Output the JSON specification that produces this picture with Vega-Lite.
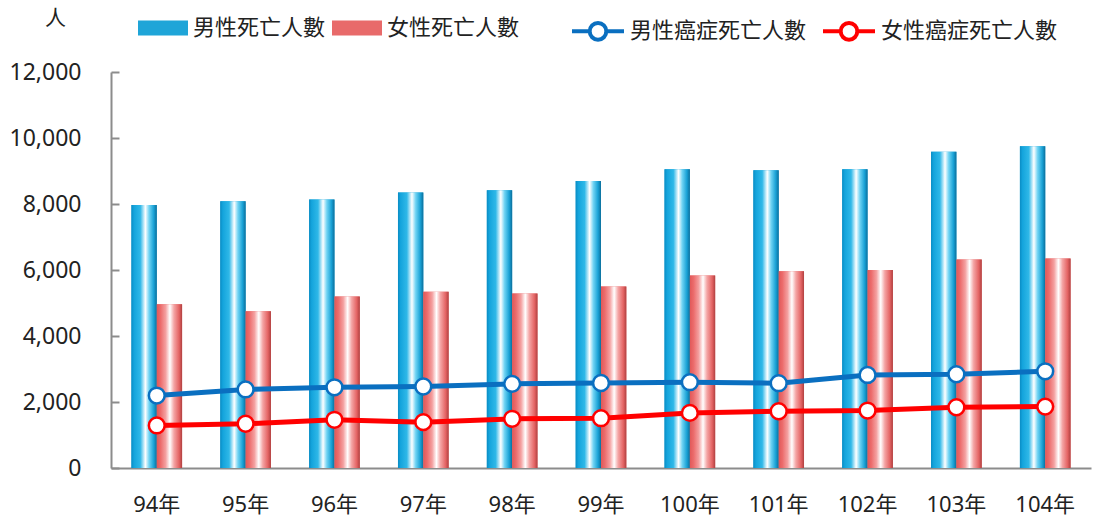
{
  "$schema": "https://vega.github.io/schema/vega-lite/v6.json",
  "width": 980,
  "height": 396,
  "autosize": {"type": "none"},
  "padding": {"left": 111, "top": 72, "right": 7, "bottom": 54},
  "background": "white",
  "config": {
    "view": {"stroke": null},
    "font": "Noto Sans, Noto Sans CJK TC",
    "axis": {"labelFont": "Noto Sans, Noto Sans CJK TC", "titleFont": "Noto Sans CJK TC"},
    "legend": {"labelFont": "Noto Sans CJK TC", "labelLimit": 400}
  },
  "datasets": {
    "bars": [
      {"year": "94年", "series": "男性死亡人數", "value": 7970},
      {"year": "95年", "series": "男性死亡人數", "value": 8080},
      {"year": "96年", "series": "男性死亡人數", "value": 8140},
      {"year": "97年", "series": "男性死亡人數", "value": 8350},
      {"year": "98年", "series": "男性死亡人數", "value": 8420},
      {"year": "99年", "series": "男性死亡人數", "value": 8700},
      {"year": "100年", "series": "男性死亡人數", "value": 9050},
      {"year": "101年", "series": "男性死亡人數", "value": 9020},
      {"year": "102年", "series": "男性死亡人數", "value": 9050},
      {"year": "103年", "series": "男性死亡人數", "value": 9580},
      {"year": "104年", "series": "男性死亡人數", "value": 9750},
      {"year": "94年", "series": "女性死亡人數", "value": 4960},
      {"year": "95年", "series": "女性死亡人數", "value": 4750},
      {"year": "96年", "series": "女性死亡人數", "value": 5200},
      {"year": "97年", "series": "女性死亡人數", "value": 5340},
      {"year": "98年", "series": "女性死亡人數", "value": 5290},
      {"year": "99年", "series": "女性死亡人數", "value": 5500},
      {"year": "100年", "series": "女性死亡人數", "value": 5830},
      {"year": "101年", "series": "女性死亡人數", "value": 5960},
      {"year": "102年", "series": "女性死亡人數", "value": 6000},
      {"year": "103年", "series": "女性死亡人數", "value": 6320},
      {"year": "104年", "series": "女性死亡人數", "value": 6350}
    ],
    "lines": [
      {"year": "94年", "series": "男性癌症死亡人數", "value": 2195},
      {"year": "95年", "series": "男性癌症死亡人數", "value": 2380},
      {"year": "96年", "series": "男性癌症死亡人數", "value": 2445},
      {"year": "97年", "series": "男性癌症死亡人數", "value": 2470},
      {"year": "98年", "series": "男性癌症死亡人數", "value": 2550},
      {"year": "99年", "series": "男性癌症死亡人數", "value": 2575},
      {"year": "100年", "series": "男性癌症死亡人數", "value": 2600},
      {"year": "101年", "series": "男性癌症死亡人數", "value": 2570},
      {"year": "102年", "series": "男性癌症死亡人數", "value": 2820},
      {"year": "103年", "series": "男性癌症死亡人數", "value": 2840},
      {"year": "104年", "series": "男性癌症死亡人數", "value": 2930},
      {"year": "94年", "series": "女性癌症死亡人數", "value": 1290},
      {"year": "95年", "series": "女性癌症死亡人數", "value": 1340},
      {"year": "96年", "series": "女性癌症死亡人數", "value": 1460},
      {"year": "97年", "series": "女性癌症死亡人數", "value": 1390},
      {"year": "98年", "series": "女性癌症死亡人數", "value": 1490},
      {"year": "99年", "series": "女性癌症死亡人數", "value": 1510},
      {"year": "100年", "series": "女性癌症死亡人數", "value": 1670},
      {"year": "101年", "series": "女性癌症死亡人數", "value": 1720},
      {"year": "102年", "series": "女性癌症死亡人數", "value": 1740},
      {"year": "103年", "series": "女性癌症死亡人數", "value": 1840},
      {"year": "104年", "series": "女性癌症死亡人數", "value": 1860}
    ]
  },
  "encoding": {
    "x": {
      "field": "year",
      "type": "nominal",
      "sort": ["94年", "95年", "96年", "97年", "98年", "99年", "100年", "101年", "102年", "103年", "104年"],
      "scale": {"paddingInner": 0.43, "paddingOuter": 0.23},
      "axis": {
        "title": null,
        "labelAngle": 0,
        "labelFontSize": 22,
        "labelColor": "#222222",
        "labelPadding": 26,
        "ticks": false,
        "domainColor": "#8c8c8c",
        "domainWidth": 2
      }
    },
    "y": {
      "field": "value",
      "type": "quantitative",
      "scale": {"domain": [0, 12000]},
      "axis": {
        "title": "人",
        "titleAngle": 0,
        "titleFontSize": 21,
        "titleFontWeight": "normal",
        "titleColor": "#222222",
        "titleAlign": "center",
        "titleBaseline": "middle",
        "titleX": -56,
        "titleY": -54,
        "values": [0, 2000, 4000, 6000, 8000, 10000, 12000],
        "format": ",.0f",
        "labelFontSize": 23,
        "labelColor": "#222222",
        "labelPadding": 38,
        "tickSize": -8,
        "tickColor": "#8c8c8c",
        "tickWidth": 2,
        "domainColor": "#8c8c8c",
        "domainWidth": 2,
        "grid": false
      }
    }
  },
  "layer": [
    {
      "data": {"name": "bars"},
      "mark": {"type": "bar"},
      "encoding": {
        "xOffset": {"field": "series", "type": "nominal", "scale": {"domain": ["男性死亡人數", "女性死亡人數"], "paddingInner": 0, "paddingOuter": 0}},
        "color": {
          "field": "series",
          "type": "nominal",
          "scale": {"domain": ["男性死亡人數", "女性死亡人數"], "range": ["#1fa5d8", "#e86a6a"]},
          "legend": {
            "title": null,
            "orient": "none",
            "direction": "horizontal",
            "legendX": 27,
            "legendY": -69,
            "symbolType": "M-1,-0.3H1V0.3H-1Z",
            "symbolSize": 2500,
            "symbolStrokeWidth": 0,
            "labelFontSize": 22,
            "labelColor": "#222222",
            "labelOffset": 5,
            "columnPadding": 6
          }
        }
      }
    },
    {
      "data": {"name": "bars"},
      "transform": [{"filter": "datum.series === '男性死亡人數'"}],
      "mark": {
        "type": "bar",
        "color": {
          "gradient": "linear",
          "x1": 0, "x2": 1, "y1": 0, "y2": 0,
          "stops": [
            {"offset": 0, "color": "#0a8cc4"},
            {"offset": 0.1, "color": "#14a4dc"},
            {"offset": 0.35, "color": "#2fb8e8"},
            {"offset": 0.55, "color": "#ffffff"},
            {"offset": 0.7, "color": "#6fd3f3"},
            {"offset": 0.88, "color": "#1aa2d6"},
            {"offset": 1, "color": "#0b6f9c"}
          ]
        }
      },
      "encoding": {
        "xOffset": {"field": "series", "type": "nominal"}
      }
    },
    {
      "data": {"name": "bars"},
      "transform": [{"filter": "datum.series === '女性死亡人數'"}],
      "mark": {
        "type": "bar",
        "color": {
          "gradient": "linear",
          "x1": 0, "x2": 1, "y1": 0, "y2": 0,
          "stops": [
            {"offset": 0, "color": "#e05858"},
            {"offset": 0.15, "color": "#ec6c6c"},
            {"offset": 0.35, "color": "#f4a0a0"},
            {"offset": 0.52, "color": "#ffffff"},
            {"offset": 0.68, "color": "#f4a4a4"},
            {"offset": 0.88, "color": "#e46464"},
            {"offset": 1, "color": "#b04040"}
          ]
        }
      },
      "encoding": {
        "xOffset": {"field": "series", "type": "nominal"}
      }
    },
    {
      "data": {"name": "lines"},
      "mark": {"type": "line", "strokeWidth": 5},
      "encoding": {
        "stroke": {
          "field": "series",
          "type": "nominal",
          "scale": {"domain": ["男性癌症死亡人數", "女性癌症死亡人數"], "range": ["#0a6fc0", "#ff0000"]},
          "legend": {
            "title": null,
            "orient": "none",
            "direction": "horizontal",
            "legendX": 459,
            "legendY": -69,
            "symbolType": "M-1,0H-0.32M0.32,0H1M-0.32,0A0.32,0.32 0 1,0 0.32,0A0.32,0.32 0 1,0 -0.32,0Z",
            "symbolSize": 2704,
            "symbolStrokeWidth": 4,
            "symbolFillColor": "white",
            "labelFontSize": 22,
            "labelColor": "#222222",
            "labelOffset": 4,
            "columnPadding": 8
          }
        }
      }
    },
    {
      "data": {"name": "lines"},
      "mark": {"type": "point", "filled": true, "fill": "white", "size": 250, "strokeWidth": 2.5, "opacity": 1},
      "encoding": {
        "stroke": {"field": "series", "type": "nominal"}
      }
    }
  ]
}
